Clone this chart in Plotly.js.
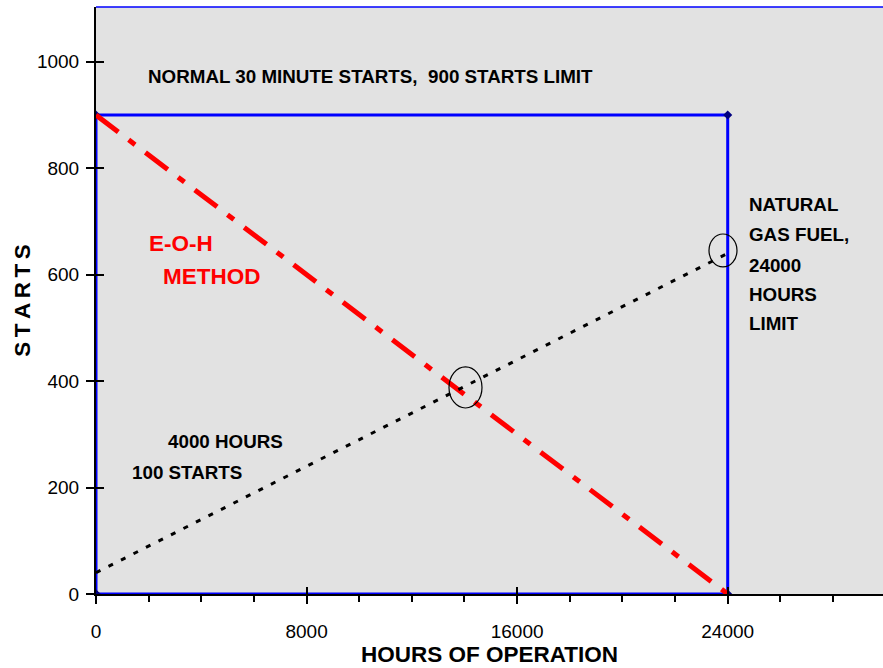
<!DOCTYPE html>
<html>
<head>
<meta charset="utf-8">
<script src="https://cdn.plot.ly/plotly-3.0.1.min.js"></script>
<style>
html,body{margin:0;padding:0;background:#fff;}
#chart{width:883px;height:668px;}
</style>
</head>
<body>
<div id="chart"></div>
<script>
// ---- data ----
var limitHours = [0, 0, 24000, 24000, 0];
var limitStarts = [0, 900, 900, 0, 0];
var eohHours = [0, 24000];
var eohStarts = [900, 0];
var ratioHours = [0, 24000];
var ratioStarts = [40, 640];
var xTickVals = [0, 8000, 16000, 24000];
var xTickText = ['0', '8000', '16000', '24000'];
var yTickVals = [0, 200, 400, 600, 800, 1000];
var yTickText = ['0', '200', '400', '600', '800', '1000'];

var BOLD = '"Liberation Sans", Arial, sans-serif';
var REG = '"Liberation Sans", Arial, sans-serif';

var traces = [
  {x: limitHours, y: limitStarts, type: 'scatter', mode: 'lines+markers',
   line: {color: '#0000ff', width: 3},
   marker: {symbol: 'diamond', size: 7, color: '#000080'},
   hoverinfo: 'skip', showlegend: false},
  {x: eohHours, y: eohStarts, type: 'scatter', mode: 'lines',
   line: {color: '#ff0000', width: 5, dash: '28px,13px,8px,13px'},
   hoverinfo: 'skip', showlegend: false},
  {x: ratioHours, y: ratioStarts, type: 'scatter', mode: 'lines',
   line: {color: '#000000', width: 3, dash: '5px,9px'},
   hoverinfo: 'skip', showlegend: false},
  // invisible trace for overlay axes carrying the inner halves of the crossing ticks
  {x: [0], y: [0], xaxis: 'x2', yaxis: 'y2', mode: 'markers', marker: {opacity: 0},
   hoverinfo: 'skip', showlegend: false}
];

var boldFont = {family: BOLD, size: 18.8, color: '#000'};
function lab(t, x, y, font) {
  return {text: '<b>' + t + '</b>', x: x, y: y, xref: 'x', yref: 'y',
          xanchor: 'left', yanchor: 'middle', showarrow: false, font: font || boldFont};
}
var redFont = {family: BOLD, size: 22.5, color: '#ff0000'};

var layout = {
  width: 883, height: 668,
  margin: {l: 96, r: 0, t: 7, b: 74},
  paper_bgcolor: '#ffffff',
  plot_bgcolor: '#e2e2e2',
  showlegend: false,
  xaxis: {
    range: [0, 29900], tickvals: xTickVals, ticktext: xTickText,
    showgrid: false, zeroline: false,
    showline: true, linecolor: '#000', linewidth: 2,
    ticks: 'outside', ticklen: 8, tickwidth: 2, tickcolor: '#000',
    minor: {tickvals: [2000,4000,6000,10000,12000,14000,18000,20000,22000,26000,28000], ticks: 'outside', ticklen: 6, tickwidth: 2, tickcolor: '#000'},
    ticklabelstandoff: 11,
    tickfont: {family: REG, size: 19, color: '#000'},
    title: {text: '<b>HOURS OF OPERATION</b>', font: {family: BOLD, size: 22.5, color: '#000'}, standoff: 1}
  },
  yaxis: {
    range: [0, 1103], tickvals: yTickVals, ticktext: yTickText,
    showgrid: false, zeroline: false,
    showline: true, linecolor: '#000', linewidth: 2,
    ticks: 'outside', ticklen: 8, tickwidth: 2, tickcolor: '#000',
    ticklabelstandoff: 3,
    tickfont: {family: REG, size: 19, color: '#000'},
    title: {text: '<b>S\u2009T\u2009A\u2009R\u2009T\u2009S</b>', font: {family: BOLD, size: 22.5, color: '#000'}, standoff: 0}
  },
  xaxis2: {overlaying: 'x', matches: 'x', range: [0, 29900], tickvals: xTickVals, showticklabels: false,
           ticks: 'inside', ticklen: 7, tickwidth: 2, tickcolor: '#000',
           showgrid: false, zeroline: false, showline: false},
  yaxis2: {overlaying: 'y', range: [0, 1103], tickvals: yTickVals, showticklabels: false,
           ticks: 'inside', ticklen: 8, tickwidth: 2, tickcolor: '#000',
           showgrid: false, zeroline: false, showline: false},
  shapes: [
    {type: 'line', xref: 'paper', yref: 'paper', x0: 0, x1: 1, y0: 1, y1: 1,
     line: {color: '#0000ff', width: 1.5}},
    {type: 'circle', xref: 'x', yref: 'y', x0: 13411, x1: 14665, y0: 349.5, y1: 426.6,
     line: {color: '#000', width: 1.2}},
    {type: 'circle', xref: 'x', yref: 'y', x0: 23289, x1: 24353, y0: 614.5, y1: 676.5,
     line: {color: '#000', width: 1.2}}
  ],
  annotations: [
    lab('NORMAL 30 MINUTE STARTS,&nbsp; 900 STARTS LIMIT', 1900, 973),
    lab('E-O-H', 1940, 659.5, redFont),
    lab('METHOD', 2470, 597.5, redFont),
    lab('4000 HOURS', 2660, 287.5),
    lab('100 STARTS', 1290, 229),
    lab('NATURAL', 24733, 731),
    lab('GAS FUEL,', 24733, 674.6),
    lab('24000', 24733, 618),
    lab('HOURS', 24733, 563.7),
    lab('LIMIT', 24733, 509)
  ]
};

Plotly.newPlot('chart', traces, layout, {staticPlot: true, displayModeBar: false});
</script>
</body>
</html>
